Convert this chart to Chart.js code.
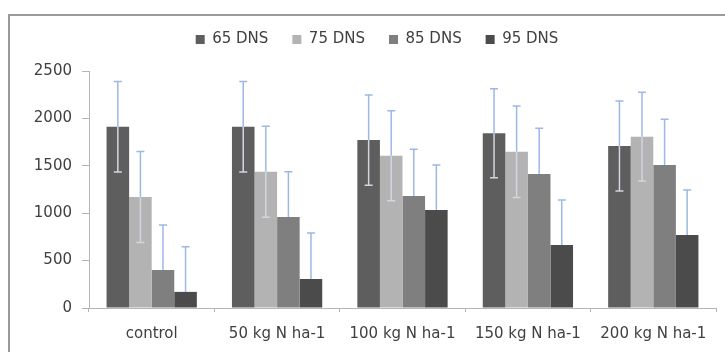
<!DOCTYPE html>
<html>
<head>
<meta charset="utf-8">
<script src="https://cdn.jsdelivr.net/npm/chart.js@4/dist/chart.umd.min.js"></script>
<style>
  html, body { margin: 0; padding: 0; background: #fff; }
  #wrap { position: relative; width: 725px; height: 352px; overflow: hidden; }
  #frame { position: absolute; left: 8px; top: 14px; width: 800px; height: 400px;
           border-left: 2px solid #9a9a9a; border-top: 2px solid #9a9a9a; }
  #chart1 { position: absolute; left: 0; top: 0; }
</style>
</head>
<body>
<div id="wrap">
  <div id="frame"></div>
  <canvas id="chart1" width="725" height="352"></canvas>
</div>
<script>
// categories (x axis)
const categories = ['control', '50 kg N ha-1', '100 kg N ha-1', '150 kg N ha-1', '200 kg N ha-1'];

// bar heights
const dns65 = [1912, 1912, 1772, 1843, 1709];
const dns75 = [1172, 1438, 1607, 1649, 1807];
const dns85 = [401, 960, 1181, 1413, 1508];
const dns95 = [170, 306, 1034, 665, 770];

// error bar sizes
const err65 = [477, 477, 476, 470, 475];
const err75 = [480, 480, 475, 483, 468];
const err85 = [475, 478, 493, 483, 482];
const err95 = [475, 485, 474, 474, 475];

// y tick values
const yTicks = [0, 500, 1000, 1500, 2000, 2500];

const textColor = '#404040';
const axisColor = '#b5b5b5';

// draws the error bars on top of the bars
const errorBars = {
    id: 'errorBars',
    afterDatasetsDraw(chart) {
        const ctx = chart.ctx;
        const y = chart.scales.y;
        ctx.save();
        ctx.lineWidth = 1.5;
        chart.data.datasets.forEach((ds, i) => {
            const meta = chart.getDatasetMeta(i);
            meta.data.forEach((bar, j) => {
                const v = ds.data[j];
                const e = ds.err[j];
                const yTop = y.getPixelForValue(v + e);
                const yBar = y.getPixelForValue(v);
                const x = bar.x;
                // upper part
                ctx.strokeStyle = '#9db8e4';
                ctx.beginPath();
                ctx.moveTo(x, yBar);
                ctx.lineTo(x, yTop);
                ctx.moveTo(x - 4, yTop);
                ctx.lineTo(x + 4, yTop);
                ctx.stroke();
                if (ds.errMinus) {
                    const low = Math.max(0, v - e);
                    const yLow = y.getPixelForValue(low);
                    ctx.strokeStyle = '#d2d6de';
                    ctx.beginPath();
                    ctx.moveTo(x, yBar);
                    ctx.lineTo(x, yLow);
                    if (low > 0) {
                        ctx.moveTo(x - 4, yLow);
                        ctx.lineTo(x + 4, yLow);
                    }
                    ctx.stroke();
                }
            });
        });
        ctx.restore();
    }
};

// extra room below the legend, and legend nudged right like the original
const legendGap = {
    id: 'legendGap',
    afterInit(chart) {
        const fit = chart.legend.fit;
        chart.legend.fit = function () {
            fit.call(this);
            this.height += 14;
        };
    },
    afterLayout(chart) {
        chart.legend.left += 14;
        chart.legend.right += 14;
    }
};

const font = { family: 'DejaVu Sans', size: 15 };

const ctx = document.getElementById('chart1').getContext('2d');
const chart = new Chart(ctx, {
    type: 'bar',
    data: {
        labels: categories,
        datasets: [
            { label: '65 DNS', data: dns65, err: err65, errMinus: true, backgroundColor: '#5e5e5e' },
            { label: '75 DNS', data: dns75, err: err75, errMinus: true, backgroundColor: '#b3b3b3' },
            { label: '85 DNS', data: dns85, err: err85, errMinus: false, backgroundColor: '#7f7f7f' },
            { label: '95 DNS', data: dns95, err: err95, errMinus: false, backgroundColor: '#4b4b4b' }
        ]
    },
    options: {
        responsive: false,
        animation: false,
        layout: { padding: { left: 10, right: 9, top: 8, bottom: 0 } },
        datasets: { bar: { categoryPercentage: 0.72, barPercentage: 1.0, borderWidth: 0 } },
        plugins: {
            legend: {
                position: 'top',
                labels: {
                    boxWidth: 9, boxHeight: 9, padding: 24,
                    color: textColor, font: font
                }
            },
            tooltip: { enabled: false }
        },
        scales: {
            x: {
                grid: { offset: true, drawOnChartArea: false, tickLength: 4, color: axisColor },
                border: { color: axisColor },
                ticks: { color: textColor, font: font, padding: 13, maxRotation: 0 },
                afterFit(scale) { scale.height = 44; }
            },
            y: {
                min: 0, max: 2500,
                afterBuildTicks(scale) { scale.ticks = yTicks.map(v => ({ value: v })); },
                grid: { drawOnChartArea: false, tickLength: 7, color: axisColor },
                border: { color: axisColor },
                ticks: { color: textColor, font: font, padding: 10, callback: v => String(v) },
                afterFit(scale) { scale.width = 79; }
            }
        }
    },
    plugins: [errorBars, legendGap]
});
</script>
</body>
</html>
